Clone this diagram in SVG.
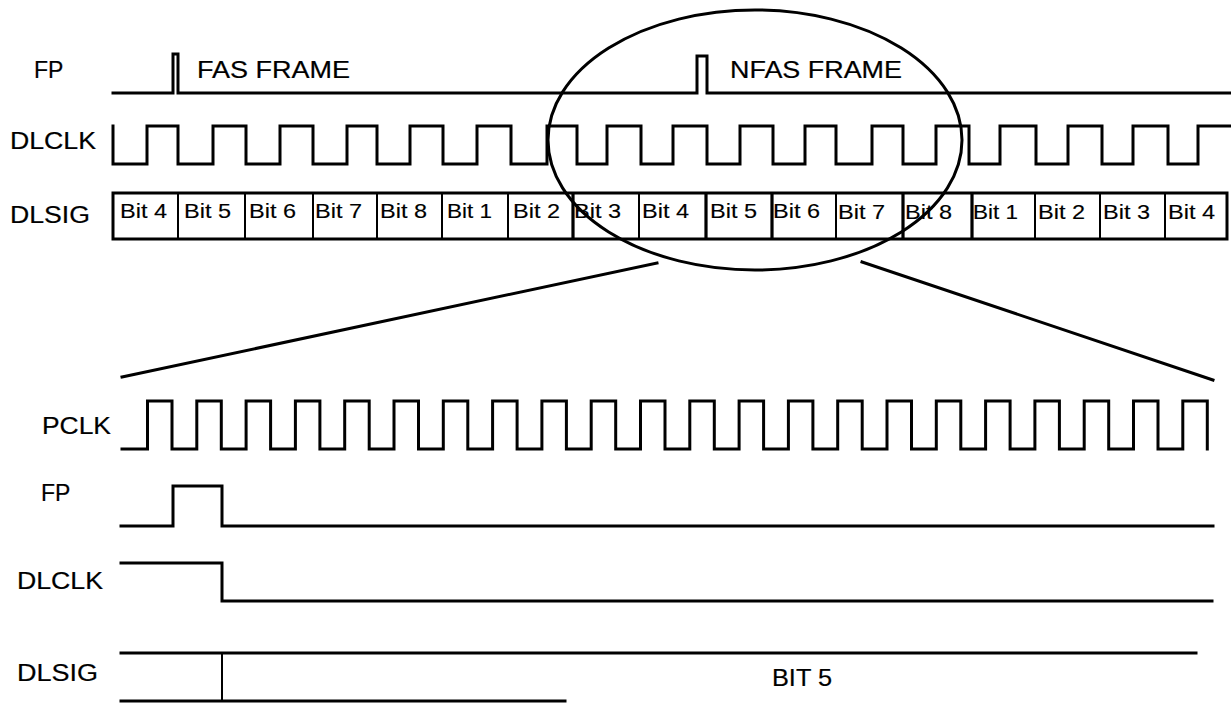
<svg xmlns="http://www.w3.org/2000/svg" width="1231" height="703" viewBox="0 0 1231 703">
<style>
.w{fill:none;stroke:#000;stroke-width:3;stroke-linejoin:miter;stroke-linecap:square}
.t{fill:none;stroke:#000;stroke-width:2}
.tk{fill:none;stroke:#000;stroke-width:3.2}
.lbl{font-family:"Liberation Sans",Arial,sans-serif;font-size:23px;fill:#000;stroke:#000;stroke-width:0.2}
.bit{font-family:"Liberation Sans",Arial,sans-serif;font-size:21px;fill:#000;stroke:#000;stroke-width:0.15}
</style>
<rect width="1231" height="703" fill="#fff"/>
<g id="top-labels">
<text class="lbl" x="34" y="78">FP</text>
<text class="lbl" x="10" y="149" textLength="86" lengthAdjust="spacingAndGlyphs">DLCLK</text>
<text class="lbl" x="10" y="223" textLength="80" lengthAdjust="spacingAndGlyphs">DLSIG</text>
<text class="lbl" x="197" y="78" textLength="153" lengthAdjust="spacingAndGlyphs">FAS FRAME</text>
<text class="lbl" x="730" y="78" textLength="172" lengthAdjust="spacingAndGlyphs">NFAS FRAME</text>
</g>
<g id="top-fp">
<path class="w" d="M113,93 H173 V54 H178 V93 H697 V56 H707 V93 H1231"/>
</g>
<g id="top-dlclk">
<path class="w" d="M113,126 V164 H147 V126 H178 V164 H213 V126 H246 V164 H280 V126 H313 V164 H347 V126 H377 V164 H410 V126 H443 V164 H477 V126 H511 V164 H547 V126 H577 V164 H607 V126 H641 V164 H673 V126 H707 V164 H740 V126 H773 V164 H805 V126 H836 V164 H872 V126 H903 V164 H936 V126 H969 V164 H1000 V126 H1036 V164 H1068 V126 H1102 V164 H1133 V126 H1168 V164 H1198 V126 H1231"/>
</g>
<g id="top-dlsig">
<path class="w" d="M113,193 H1227 V239 H113 Z"/>
<path class="t" d="M178,193V239 M245,193V239 M313,193V239 M377,193V239 M442,193V239 M508,193V239 M639,193V239 M836,193V239 M1035,193V239 M1100,193V239 M1165,193V239"/>
<path class="tk" d="M573,193V239 M706,193V239 M772,193V239 M903,193V239 M972,193V239"/>
<text class="bit" x="120" y="218" textLength="47" lengthAdjust="spacingAndGlyphs">Bit 4</text>
<text class="bit" x="184" y="218" textLength="47" lengthAdjust="spacingAndGlyphs">Bit 5</text>
<text class="bit" x="249" y="218" textLength="47" lengthAdjust="spacingAndGlyphs">Bit 6</text>
<text class="bit" x="315" y="218" textLength="47" lengthAdjust="spacingAndGlyphs">Bit 7</text>
<text class="bit" x="380" y="218" textLength="47" lengthAdjust="spacingAndGlyphs">Bit 8</text>
<text class="bit" x="447" y="218" textLength="45" lengthAdjust="spacingAndGlyphs">Bit 1</text>
<text class="bit" x="513" y="218" textLength="47" lengthAdjust="spacingAndGlyphs">Bit 2</text>
<text class="bit" x="574" y="218" textLength="47" lengthAdjust="spacingAndGlyphs">Bit 3</text>
<text class="bit" x="642" y="218" textLength="47" lengthAdjust="spacingAndGlyphs">Bit 4</text>
<text class="bit" x="710" y="218" textLength="47" lengthAdjust="spacingAndGlyphs">Bit 5</text>
<text class="bit" x="773" y="218" textLength="47" lengthAdjust="spacingAndGlyphs">Bit 6</text>
<text class="bit" x="838" y="219" textLength="47" lengthAdjust="spacingAndGlyphs">Bit 7</text>
<text class="bit" x="905" y="219" textLength="47" lengthAdjust="spacingAndGlyphs">Bit 8</text>
<text class="bit" x="973" y="219" textLength="45" lengthAdjust="spacingAndGlyphs">Bit 1</text>
<text class="bit" x="1038" y="219" textLength="47" lengthAdjust="spacingAndGlyphs">Bit 2</text>
<text class="bit" x="1103" y="219" textLength="47" lengthAdjust="spacingAndGlyphs">Bit 3</text>
<text class="bit" x="1168" y="219" textLength="47" lengthAdjust="spacingAndGlyphs">Bit 4</text>
</g>
<g id="zoom-callout">
<ellipse cx="755" cy="140" rx="207" ry="130" fill="none" stroke="#000" stroke-width="3"/>
<path class="w" d="M657,263 L122,377 M862,262 L1213,380" stroke-linecap="round"/>
</g>
<g id="bottom-labels">
<text class="lbl" x="42" y="434" textLength="69" lengthAdjust="spacingAndGlyphs">PCLK</text>
<text class="lbl" x="41" y="501">FP</text>
<text class="lbl" x="17" y="589" textLength="86" lengthAdjust="spacingAndGlyphs">DLCLK</text>
<text class="lbl" x="17" y="681" textLength="81" lengthAdjust="spacingAndGlyphs">DLSIG</text>
<text class="lbl" x="772" y="686" textLength="60" lengthAdjust="spacingAndGlyphs">BIT 5</text>
</g>
<g id="bottom-pclk">
<path class="w" d="M122,449 H147.5 V401 H172 V449 H196.8 V401 H221.3 V449 H246.1 V401 H270.6 V449 H295.4 V401 H319.9 V449 H344.7 V401 H369.2 V449 H394 V401 H418.5 V449 H443.3 V401 H467.8 V449 H492.6 V401 H517.1 V449 H541.9 V401 H566.4 V449 H591.2 V401 H615.7 V449 H640.5 V401 H665 V449 H689.8 V401 H714.3 V449 H739.1 V401 H763.6 V449 H788.4 V401 H812.9 V449 H837.7 V401 H862.2 V449 H887 V401 H911.5 V449 H936.3 V401 H960.8 V449 H985.6 V401 H1010.1 V449 H1034.9 V401 H1059.4 V449 H1084.2 V401 H1108.7 V449 H1133.5 V401 H1158 V449 H1182.8 V401 H1207.3 V449"/>
</g>
<g id="bottom-fp">
<path class="w" d="M121,526 H173 V486 H222 V526 H1213"/>
</g>
<g id="bottom-dlclk">
<path class="w" d="M121,563 H222 V601 H1212"/>
</g>
<g id="bottom-dlsig">
<path class="w" d="M121,653 H1196 M121,701 H565"/>
<path class="t" d="M222,653 V701"/>
</g>
</svg>
